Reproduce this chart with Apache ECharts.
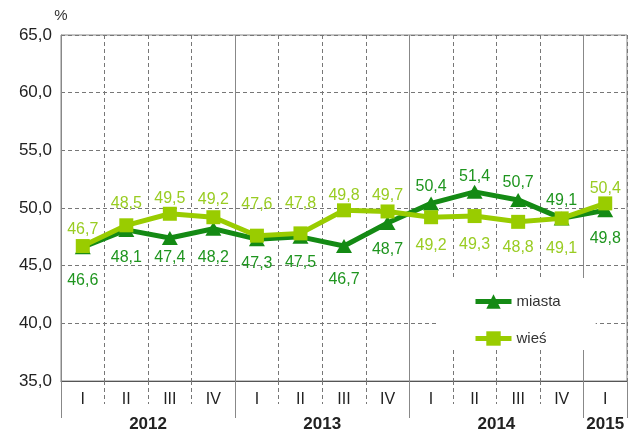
<!DOCTYPE html>
<html><head><meta charset="utf-8">
<script src="https://cdn.jsdelivr.net/npm/echarts@6/dist/echarts.min.js"></script>
<style>html,body{margin:0;padding:0;background:#fff}#c{width:631px;height:435px}</style>
</head><body><div id="c"></div>
<script>
const quarters = ['I','II','III','IV','I','II','III','IV','I','II','III','IV','I'];
const years = ['2012','2013','2014','2015'];
const miasta = [46.6,48.1,47.4,48.2,47.3,47.5,46.7,48.7,50.4,51.4,50.7,49.1,49.8];
const wies = [46.7,48.5,49.5,49.2,47.6,47.8,49.8,49.7,49.2,49.3,48.8,49.1,50.4];
const yTicks = [35,40,45,50,55,60,65];

// label styling (not data)
const miastaLabelPos = ['bottom','bottom','bottom','bottom','bottom','bottom','bottom','bottom','top','top','top','top','bottom'];
const miastaLabelDist = [18,13,5,14,9,11,19,12,2,0,2,3,13];
const wiesLabelPos = ['top','top','top','top','top','top','top','top','bottom','bottom','bottom','bottom','top'];
const wiesLabelDist = [1,7,0,3,16,15,0,1,13,14,11,15,0];

const fmt = v => v.toFixed(1).replace('.', ',');
const FONT = '"Liberation Sans", Arial, sans-serif';

// secondary (year) axis: 27 points at half-category steps
const yearSlots = new Array(27).fill('');
const yearIdx = [4, 12, 20, 25];
yearIdx.forEach((j, k) => yearSlots[j] = years[k]);
const yearBounds = [0, 8, 16, 24, 26];

const DARK = '#148a14', DARK_L = '#1f951f';
const LIGHT = '#99cc00', LIGHT_L = '#99cc22';

function mk(vals, pos, dist, col) {
  return vals.map((v, i) => ({
    value: v,
    label: { position: pos[i], distance: dist[i], color: col }
  }));
}

const chart = echarts.init(document.getElementById('c'), null, {renderer: 'canvas'});
chart.setOption({
  animation: false,
  textStyle: { fontFamily: FONT },
  grid: { left: 61, right: 4, top: 35, bottom: 54, show: true, borderColor: '#888', borderWidth: 1 },
  legend: {
    orient: 'vertical', left: 437, top: 278,
    backgroundColor: '#ffffff',
    padding: [16, 35, 4, 36],
    itemGap: 22, itemWidth: 36, itemHeight: 18,
    lineStyle: { width: 5 },
    textStyle: { fontSize: 15, color: '#333', fontFamily: FONT },
    data: ['miasta', 'wieś']
  },
  xAxis: [
    {
      type: 'category', data: quarters, boundaryGap: true, position: 'bottom',
      axisLine: { show: true, lineStyle: { color: '#555', width: 1 } },
      axisTick: { show: true, length: 23, lineStyle: { color: '#777', type: [4, 3] } },
      axisLabel: { fontSize: 16, color: '#222', margin: 11, fontFamily: FONT },
      splitLine: { show: true, lineStyle: { color: '#777', type: [4, 3] } }
    },
    {
      type: 'category', data: yearSlots, boundaryGap: false, position: 'bottom', offset: 0,
      axisLine: { show: false },
      axisTick: { show: true, length: 37, interval: (i) => yearBounds.includes(i), lineStyle: { color: '#888' } },
      axisLabel: { show: true, interval: 0, fontSize: 17, fontWeight: 'bold', color: '#222', margin: 35, fontFamily: FONT },
      splitLine: { show: true, interval: (i) => (i === 8 || i === 16 || i === 24), lineStyle: { color: '#888', type: 'solid' } }
    }
  ],
  yAxis: {
    type: 'value', min: yTicks[0], max: yTicks[yTicks.length - 1], interval: 5,
    name: '%', nameLocation: 'end', nameGap: 12,
    nameTextStyle: { fontSize: 15, color: '#333', fontFamily: FONT },
    axisLine: { show: true, lineStyle: { color: '#888' } },
    axisTick: { show: false },
    axisLabel: { fontSize: 17, color: '#222', margin: 9, formatter: fmt, fontFamily: FONT },
    splitLine: { show: true, lineStyle: { color: '#777', type: [4, 3] } }
  },
  series: [
    {
      name: 'wieś', type: 'line', xAxisIndex: 0,
      data: mk(wies, wiesLabelPos, wiesLabelDist, LIGHT_L),
      symbol: 'rect', symbolSize: 14,
      lineStyle: { color: LIGHT, width: 5 },
      itemStyle: { color: LIGHT },
      label: { show: true, fontSize: 16, formatter: p => fmt(p.value), fontFamily: FONT },
      z: 3
    },
    {
      name: 'miasta', type: 'line', xAxisIndex: 0,
      data: mk(miasta, miastaLabelPos, miastaLabelDist, DARK_L),
      symbol: 'triangle', symbolSize: [16, 14],
      lineStyle: { color: DARK, width: 5 },
      itemStyle: { color: DARK },
      label: { show: true, fontSize: 16, formatter: p => fmt(p.value), fontFamily: FONT },
      z: 2
    }
  ]
});
</script></body></html>
